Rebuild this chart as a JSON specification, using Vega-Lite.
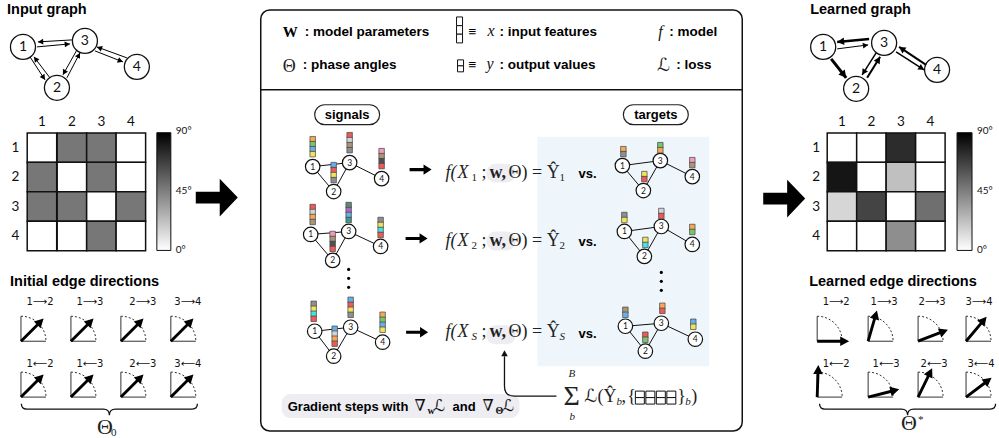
{
"$schema":"https://vega.github.io/schema/vega-lite/v6.json",
"width":999,"height":438,
"autosize":{"type":"fit","contains":"padding"},
"padding":0,
"background":"white",
"config":{"view":{"stroke":null}},
"encoding":{
 "x":{"field":"x","type":"quantitative","scale":{"domain":[0,999],"nice":false,"zero":false},"axis":null},
 "y":{"field":"y","type":"quantitative","scale":{"domain":[0,438],"nice":false,"zero":false,"reverse":true},"axis":null}
},
"datasets":{
 "panel":[{"x":538,"y":137,"x2":710,"y2":367}],
 "mainbox":[{"x":261,"y":10,"x2":743,"y2":432}],
 "sep":[{"x":261,"y":90,"x2":743,"y2":90}],
 "graypills":[{"x":282,"y":395,"x2":520,"y2":419},{"x":487,"y":164,"x2":516,"y2":183},{"x":487,"y":232,"x2":516,"y2":251},{"x":487,"y":326,"x2":516,"y2":345}],
 "pills":[{"x":315,"y":105,"x2":380,"y2":125},{"x":624,"y":105,"x2":689,"y2":125}],
 "cellboxes":[
  {"x":457,"y":17,"x2":463,"y2":25.7},{"x":457,"y":25.7,"x2":463,"y2":34.3},{"x":457,"y":34.3,"x2":463,"y2":43},
  {"x":458,"y":60,"x2":464,"y2":66},{"x":458,"y":66,"x2":464,"y2":72},
  {"x":636,"y":392,"x2":645,"y2":398.5},{"x":636,"y":398.5,"x2":645,"y2":405},
  {"x":646.5,"y":392,"x2":655.5,"y2":398.5},{"x":646.5,"y":398.5,"x2":655.5,"y2":405},
  {"x":657,"y":392,"x2":666,"y2":398.5},{"x":657,"y":398.5,"x2":666,"y2":405},
  {"x":667.5,"y":392,"x2":676.5,"y2":398.5},{"x":667.5,"y":398.5,"x2":676.5,"y2":405}
 ],
 "colorbars":[{"x":157,"y":133,"x2":171,"y2":251},{"x":958,"y":133,"x2":973,"y2":251}],
 "heat":[
  {"x":42,"y":148,"deg":0},{"x":72,"y":148,"deg":45},{"x":101.5,"y":148,"deg":45},{"x":131,"y":148,"deg":0},
  {"x":42,"y":177.5,"deg":45},{"x":72,"y":177.5,"deg":0},{"x":101.5,"y":177.5,"deg":45},{"x":131,"y":177.5,"deg":0},
  {"x":42,"y":207,"deg":45},{"x":72,"y":207,"deg":45},{"x":101.5,"y":207,"deg":0},{"x":131,"y":207,"deg":45},
  {"x":42,"y":236.5,"deg":0},{"x":72,"y":236.5,"deg":0},{"x":101.5,"y":236.5,"deg":45},{"x":131,"y":236.5,"deg":0},
  {"x":842.8,"y":148,"deg":0},{"x":872.3,"y":148,"deg":0},{"x":901.8,"y":148,"deg":74},{"x":931.3,"y":148,"deg":0},
  {"x":842.8,"y":177.5,"deg":84},{"x":872.3,"y":177.5,"deg":0},{"x":901.8,"y":177.5,"deg":20},{"x":931.3,"y":177.5,"deg":0},
  {"x":842.8,"y":207,"deg":13},{"x":872.3,"y":207,"deg":64},{"x":901.8,"y":207,"deg":0},{"x":931.3,"y":207,"deg":48},
  {"x":842.8,"y":236.5,"deg":0},{"x":872.3,"y":236.5,"deg":0},{"x":901.8,"y":236.5,"deg":37},{"x":931.3,"y":236.5,"deg":0}
 ],
 "edges":[
  {"x":72,"y":40,"x2":38,"y2":42,"ang":176.6,"w":1},
  {"x":37,"y":47,"x2":70,"y2":44,"ang":-5.2,"w":1},
  {"x":50,"y":78,"x2":34,"y2":57,"ang":-127.3,"w":1},
  {"x":30,"y":57,"x2":45,"y2":80,"ang":56.9,"w":1},
  {"x":67,"y":78,"x2":80,"y2":53,"ang":-62.5,"w":1},
  {"x":77,"y":50,"x2":63,"y2":75,"ang":119.2,"w":1},
  {"x":127,"y":58,"x2":97,"y2":47,"ang":-159.9,"w":1},
  {"x":95,"y":51,"x2":123,"y2":62,"ang":21.4,"w":1},
  {"x":870,"y":39,"x2":838,"y2":42,"ang":174.6,"w":2.5},
  {"x":838,"y":49,"x2":869,"y2":45,"ang":-7.4,"w":1},
  {"x":832,"y":59,"x2":847,"y2":78,"ang":51.7,"w":3},
  {"x":877,"y":53,"x2":863,"y2":75,"ang":122.5,"w":1.5},
  {"x":868,"y":78,"x2":881,"y2":57,"ang":-58.2,"w":2},
  {"x":927,"y":65,"x2":900,"y2":47,"ang":-146.3,"w":2},
  {"x":897,"y":52,"x2":925,"y2":70,"ang":32.7,"w":1.5}
 ],
 "nodesB":[{"x":23,"y":47,"t":"1"},{"x":85,"y":41,"t":"3"},{"x":137,"y":67,"t":"4"},{"x":57,"y":88,"t":"2"},{"x":824,"y":47,"t":"1"},{"x":885,"y":43,"t":"3"},{"x":938,"y":70,"t":"4"},{"x":857,"y":89,"t":"2"}],
 "nodesS":[
  {"x":313,"y":167,"t":"1"},{"x":334,"y":192,"t":"2"},{"x":350,"y":163,"t":"3"},{"x":382,"y":179,"t":"4"},
  {"x":311,"y":235,"t":"1"},{"x":333,"y":261,"t":"2"},{"x":349,"y":232,"t":"3"},{"x":381,"y":247,"t":"4"},
  {"x":315,"y":332,"t":"1"},{"x":334,"y":357,"t":"2"},{"x":351,"y":328,"t":"3"},{"x":383,"y":343,"t":"4"},
  {"x":623,"y":166,"t":"1"},{"x":644,"y":191,"t":"2"},{"x":661,"y":161,"t":"3"},{"x":693,"y":177,"t":"4"},
  {"x":625,"y":232,"t":"1"},{"x":645,"y":257,"t":"2"},{"x":662,"y":227,"t":"3"},{"x":693,"y":245,"t":"4"},
  {"x":626,"y":327,"t":"1"},{"x":646,"y":352,"t":"2"},{"x":662,"y":324,"t":"3"},{"x":696,"y":340,"t":"4"}
 ],
 "sedges":[
  {"x":313,"y":167,"x2":350,"y2":163},{"x":313,"y":167,"x2":334,"y2":192},{"x":334,"y":192,"x2":350,"y2":163},{"x":350,"y":163,"x2":382,"y2":179},
  {"x":311,"y":235,"x2":349,"y2":232},{"x":311,"y":235,"x2":333,"y2":261},{"x":333,"y":261,"x2":349,"y2":232},{"x":349,"y":232,"x2":381,"y2":247},
  {"x":315,"y":332,"x2":351,"y2":328},{"x":315,"y":332,"x2":334,"y2":357},{"x":334,"y":357,"x2":351,"y2":328},{"x":351,"y":328,"x2":383,"y2":343},
  {"x":623,"y":166,"x2":661,"y2":161},{"x":623,"y":166,"x2":644,"y2":191},{"x":644,"y":191,"x2":661,"y2":161},{"x":661,"y":161,"x2":693,"y2":177},
  {"x":625,"y":232,"x2":662,"y2":227},{"x":625,"y":232,"x2":645,"y2":257},{"x":645,"y":257,"x2":662,"y2":227},{"x":662,"y":227,"x2":693,"y2":245},
  {"x":626,"y":327,"x2":662,"y2":324},{"x":626,"y":327,"x2":646,"y2":352},{"x":646,"y":352,"x2":662,"y2":324},{"x":662,"y":324,"x2":696,"y2":340}
 ],
 "feat":[
  {"x":313,"y":139.5,"c":"orange"},{"x":313,"y":144.5,"c":"green"},{"x":313,"y":149.5,"c":"blue"},{"x":313,"y":154.5,"c":"yellow"},
  {"x":350,"y":135.5,"c":"red"},{"x":350,"y":140.5,"c":"lightgray"},{"x":350,"y":145.5,"c":"tan"},{"x":350,"y":150.5,"c":"gray"},
  {"x":334,"y":165.5,"c":"blue"},{"x":334,"y":170.5,"c":"red"},{"x":334,"y":175.5,"c":"yellow"},{"x":334,"y":180.5,"c":"gray"},
  {"x":382,"y":151.5,"c":"pink"},{"x":382,"y":156.5,"c":"tan"},{"x":382,"y":161.5,"c":"darkgray"},{"x":382,"y":166.5,"c":"red"},
  {"x":313,"y":207.5,"c":"red"},{"x":313,"y":212.5,"c":"lightgray"},{"x":313,"y":217.5,"c":"orange"},{"x":313,"y":222.5,"c":"tan"},
  {"x":349,"y":205.5,"c":"darkgreen"},{"x":349,"y":210.5,"c":"purple"},{"x":349,"y":215.5,"c":"blue"},{"x":349,"y":220.5,"c":"teal"},
  {"x":333,"y":234.5,"c":"pink"},{"x":333,"y":239.5,"c":"tan"},{"x":333,"y":244.5,"c":"darkgray"},{"x":333,"y":249.5,"c":"red"},
  {"x":381,"y":220.5,"c":"gray"},{"x":381,"y":225.5,"c":"yellow"},{"x":381,"y":230.5,"c":"cyan"},{"x":381,"y":235.5,"c":"red"},
  {"x":314,"y":304.5,"c":"gray"},{"x":314,"y":309.5,"c":"yellow"},{"x":314,"y":314.5,"c":"cyan"},{"x":314,"y":319.5,"c":"red"},
  {"x":351,"y":300.5,"c":"blue"},{"x":351,"y":305.5,"c":"red"},{"x":351,"y":310.5,"c":"yellow"},{"x":351,"y":315.5,"c":"gray"},
  {"x":335,"y":329.5,"c":"blue"},{"x":335,"y":334.5,"c":"lightgray"},{"x":335,"y":339.5,"c":"orange"},{"x":335,"y":344.5,"c":"red"},
  {"x":383,"y":315.5,"c":"orange"},{"x":383,"y":320.5,"c":"green"},{"x":383,"y":325.5,"c":"blue"},{"x":383,"y":330.5,"c":"yellow"},
  {"x":624,"y":149.5,"c":"orange"},{"x":624,"y":154.5,"c":"gray"},
  {"x":661,"y":145.5,"c":"green"},{"x":661,"y":150.5,"c":"orange"},
  {"x":645,"y":174.5,"c":"yellow"},{"x":645,"y":179.5,"c":"red"},
  {"x":693,"y":160.5,"c":"pink"},{"x":693,"y":165.5,"c":"tan"},
  {"x":625,"y":215.5,"c":"gray"},{"x":625,"y":220.5,"c":"yellow"},
  {"x":662,"y":211.5,"c":"lightgray"},{"x":662,"y":216.5,"c":"red"},
  {"x":646,"y":240.5,"c":"yellow"},{"x":646,"y":245.5,"c":"cyan"},
  {"x":693,"y":227.5,"c":"orange"},{"x":693,"y":232.5,"c":"green"},
  {"x":626,"y":310.5,"c":"tan"},{"x":626,"y":315.5,"c":"blue"},
  {"x":663,"y":306.5,"c":"orange"},{"x":663,"y":311.5,"c":"red"},
  {"x":646,"y":335.5,"c":"red"},{"x":646,"y":340.5,"c":"green"},
  {"x":694,"y":322.5,"c":"blue"},{"x":694,"y":327.5,"c":"yellow"}
 ],
 "dots":[{"x":349,"y":270},{"x":349,"y":279},{"x":349,"y":288},{"x":662,"y":273},{"x":662,"y":282},{"x":662,"y":291}],
 "blocks":[{"x":217,"y":198},{"x":785,"y":199}],
 "smallarrows":[{"x":421,"y":170},{"x":417,"y":239},{"x":417.5,"y":333}],
 "icons":[
  {"x":21,"y":342,"deg":45},{"x":71,"y":342,"deg":45},{"x":121,"y":342,"deg":45},{"x":171,"y":342,"deg":45},
  {"x":21,"y":398,"deg":45},{"x":71,"y":398,"deg":45},{"x":121,"y":398,"deg":45},{"x":171,"y":398,"deg":45},
  {"x":818,"y":342,"deg":0},{"x":869,"y":342,"deg":74},{"x":919,"y":342,"deg":21},{"x":967,"y":342,"deg":50},
  {"x":818,"y":398,"deg":88},{"x":869,"y":398,"deg":14},{"x":919,"y":398,"deg":64},{"x":967,"y":398,"deg":37}
 ],
 "braces":[{"x":109.5,"y":410},{"x":908.5,"y":410}],
 "curve":[{"x":530,"y":375}],
 "curvehead":[{"x":505,"y":351}],
 "t_title":[{"x":7,"y":14,"t":"Input graph"},{"x":10,"y":287,"t":"Initial edge directions"},{"x":811,"y":14,"t":"Learned graph"},{"x":810,"y":287,"t":"Learned edge directions"}],
 "t_hdr":[{"x":305,"y":36,"t":": model parameters"},{"x":303,"y":69,"t":": phase angles"},{"x":469,"y":36,"t":"≡"},{"x":469,"y":69,"t":"≡"},{"x":500,"y":36,"t":": input features"},{"x":500,"y":69,"t":": output values"},{"x":670,"y":36,"t":": model"},{"x":677,"y":69,"t":": loss"}],
 "t_b13":[{"x":579,"y":178,"t":"vs."},{"x":579,"y":247,"t":"vs."},{"x":579,"y":339,"t":"vs."},{"x":288,"y":412,"t":"Gradient steps with"},{"x":453,"y":412,"t":"and"}],
 "t_pill":[{"x":347.5,"y":119,"t":"signals"},{"x":656.5,"y":119,"t":"targets"}],
 "t_axis":[
  {"x":42,"y":122,"t":"1"},{"x":72,"y":122,"t":"2"},{"x":101.5,"y":122,"t":"3"},{"x":131,"y":122,"t":"4"},
  {"x":15.5,"y":148,"t":"1"},{"x":15.5,"y":177.5,"t":"2"},{"x":15.5,"y":207,"t":"3"},{"x":15.5,"y":236.5,"t":"4"},
  {"x":842.8,"y":122,"t":"1"},{"x":872.3,"y":122,"t":"2"},{"x":901.8,"y":122,"t":"3"},{"x":931.3,"y":122,"t":"4"},
  {"x":817,"y":148,"t":"1"},{"x":817,"y":177.5,"t":"2"},{"x":817,"y":207,"t":"3"},{"x":817,"y":236.5,"t":"4"}
 ],
 "t_cb":[{"x":176,"y":131,"t":"90°"},{"x":176,"y":191,"t":"45°"},{"x":176,"y":251,"t":"0°"},{"x":978,"y":131,"t":"90°"},{"x":978,"y":191,"t":"45°"},{"x":978,"y":251,"t":"0°"}],
 "t_edge":[
  {"x":40,"y":303,"t":"1⟶2"},{"x":90,"y":303,"t":"1⟶3"},{"x":143,"y":303,"t":"2⟶3"},{"x":188,"y":303,"t":"3⟶4"},
  {"x":40,"y":365,"t":"1⟵2"},{"x":90,"y":365,"t":"1⟵3"},{"x":143,"y":365,"t":"2⟵3"},{"x":188,"y":365,"t":"3⟵4"},
  {"x":837,"y":303,"t":"1⟶2"},{"x":885,"y":303,"t":"1⟶3"},{"x":933,"y":303,"t":"2⟶3"},{"x":980,"y":303,"t":"3⟶4"},
  {"x":837,"y":365,"t":"1⟵2"},{"x":887,"y":365,"t":"1⟵3"},{"x":935,"y":365,"t":"2⟵3"},{"x":982,"y":365,"t":"3⟵4"}
 ],
 "t_ser":[
  {"x":283,"y":72,"t":"Θ"},{"x":658,"y":71,"t":"ℒ"},
  {"x":482,"y":178,"t":";"},{"x":482,"y":247,"t":";"},{"x":482,"y":338,"t":";"},
  {"x":509,"y":178,"t":"Θ) = Ŷ"},{"x":509,"y":247,"t":"Θ) = Ŷ"},{"x":509,"y":338,"t":"Θ) = Ŷ"},
  {"x":585,"y":403,"t":"ℒ("},{"x":604,"y":403,"t":"Ŷ"},{"x":622,"y":403,"t":","},{"x":628,"y":403,"t":"{"},{"x":678,"y":403,"t":"}"},{"x":692,"y":403,"t":")"}
 ],
 "t_seri":[
  {"x":446,"y":178,"t":"f("},{"x":458,"y":178,"t":"X"},
  {"x":446,"y":247,"t":"f("},{"x":458,"y":247,"t":"X"},
  {"x":446,"y":338,"t":"f("},{"x":458,"y":338,"t":"X"}
 ],
 "t_seri16":[{"x":488,"y":36,"t":"x"},{"x":487,"y":69,"t":"y"},{"x":659,"y":37,"t":"f"}],
 "t_serb":[{"x":490,"y":178,"t":"w,"},{"x":490,"y":247,"t":"w,"},{"x":490,"y":338,"t":"w,"}],
 "t_W":[{"x":283,"y":37,"t":"W"}],
 "t_sub":[{"x":472,"y":181,"t":"1"},{"x":472,"y":250,"t":"2"},{"x":560,"y":181,"t":"1"},{"x":560,"y":250,"t":"2"},{"x":111,"y":437,"t":"0"},{"x":919,"y":424,"t":"*"}],
 "t_subi":[{"x":472,"y":341,"t":"S"},{"x":560,"y":341,"t":"S"},{"x":569,"y":378,"t":"B"},{"x":570,"y":421,"t":"b"},{"x":617,"y":406,"t":"b"},{"x":686,"y":406,"t":"b"}],
 "t_nabla":[{"x":415,"y":412,"t":"∇"},{"x":434,"y":412,"t":"ℒ"},{"x":483,"y":412,"t":"∇"},{"x":503,"y":412,"t":"ℒ"}],
 "t_subn":[{"x":428,"y":415,"t":"w"},{"x":496,"y":415,"t":"Θ"}],
 "t_sigma":[{"x":564,"y":406,"t":"Σ"}],
 "t_theta":[{"x":97,"y":435,"t":"Θ"},{"x":902,"y":431,"t":"Θ"}]
},
"layer":[
 {"data":{"name":"panel"},"mark":{"type":"rect","fill":"#eef6fb"},"encoding":{"x2":{"field":"x2"},"y2":{"field":"y2"}}},
 {"data":{"name":"mainbox"},"mark":{"type":"rect","filled":false,"stroke":"#111","strokeWidth":1.5,"cornerRadius":9},"encoding":{"x2":{"field":"x2"},"y2":{"field":"y2"}}},
 {"data":{"name":"sep"},"mark":{"type":"rule","stroke":"#111","strokeWidth":1.5},"encoding":{"x2":{"field":"x2"},"y2":{"field":"y2"}}},
 {"data":{"name":"graypills"},"mark":{"type":"rect","fill":"#ededf2","cornerRadius":9},"encoding":{"x2":{"field":"x2"},"y2":{"field":"y2"}}},
 {"data":{"name":"pills"},"mark":{"type":"rect","fill":"white","stroke":"#222","strokeWidth":1.2,"cornerRadius":10},"encoding":{"x2":{"field":"x2"},"y2":{"field":"y2"}}},
 {"data":{"name":"cellboxes"},"mark":{"type":"rect","fill":"white","stroke":"#111","strokeWidth":1},"encoding":{"x2":{"field":"x2"},"y2":{"field":"y2"}}},
 {"data":{"name":"colorbars"},"mark":{"type":"rect","stroke":"#111","strokeWidth":1,"fill":{"gradient":"linear","x1":0,"y1":0,"x2":0,"y2":1,"stops":[{"offset":0,"color":"#000000"},{"offset":1,"color":"#ffffff"}]}},"encoding":{"x2":{"field":"x2"},"y2":{"field":"y2"}}},
 {"data":{"name":"heat"},"mark":{"type":"point","shape":"square","size":870,"filled":true,"stroke":"#111","strokeWidth":1.5,"opacity":1},"encoding":{"fill":{"field":"deg","type":"quantitative","scale":{"domain":[0,90],"range":["#ffffff","#000000"]},"legend":null}}},
 {"data":{"name":"nodesB"},"mark":{"type":"point","shape":"circle","size":625,"filled":true,"fill":"white","stroke":"#111","strokeWidth":1.3,"opacity":1}},
 {"data":{"name":"edges"},"mark":{"type":"rule","color":"#000"},"encoding":{"x2":{"field":"x2"},"y2":{"field":"y2"},"strokeWidth":{"field":"w","type":"quantitative","scale":null}}},
 {"data":{"name":"edges"},"mark":{"type":"point","shape":"M0,0L-1,-0.55L-1,0.55Z","filled":true,"fill":"#000","strokeWidth":0,"opacity":1},"encoding":{
   "x":{"field":"x2","type":"quantitative","scale":{"domain":[0,999],"nice":false,"zero":false},"axis":null},
   "y":{"field":"y2","type":"quantitative","scale":{"domain":[0,438],"nice":false,"zero":false,"reverse":true},"axis":null},
   "angle":{"field":"ang","type":"quantitative","scale":null},
   "size":{"field":"w","type":"quantitative","scale":{"domain":[1,3],"range":[110,220]},"legend":null}}},
 {"data":{"name":"nodesB"},"mark":{"type":"text","font":"Lato","fontSize":14,"align":"center","baseline":"middle","color":"#111"},"encoding":{"text":{"field":"t"}}},
 {"data":{"name":"sedges"},"mark":{"type":"rule","color":"#111","strokeWidth":1},"encoding":{"x2":{"field":"x2"},"y2":{"field":"y2"}}},
 {"data":{"name":"nodesS"},"mark":{"type":"point","shape":"circle","size":210,"filled":true,"fill":"white","stroke":"#111","strokeWidth":1.2,"opacity":1}},
 {"data":{"name":"nodesS"},"mark":{"type":"text","font":"Lato","fontSize":8.5,"align":"center","baseline":"middle","color":"#111"},"encoding":{"text":{"field":"t"}}},
 {"data":{"name":"feat"},"mark":{"type":"point","shape":"square","size":30,"filled":true,"stroke":"#444","strokeWidth":0.7,"opacity":1},"encoding":{"color":{"field":"c","type":"nominal","legend":null,"scale":{"domain":["orange","green","blue","yellow","red","lightgray","tan","gray","darkgray","pink","purple","teal","cyan","darkgreen"],"range":["#f5a955","#7cc46c","#6aaee8","#f2e35a","#ee5a5a","#d4d4d4","#ab9478","#8f8f8f","#505050","#f49bbd","#a86bc0","#3f9a86","#48e0e0","#5f8a70"]}}}},
 {"data":{"name":"dots"},"mark":{"type":"point","shape":"circle","size":10,"filled":true,"fill":"#000","strokeWidth":0,"opacity":1}},
 {"data":{"name":"blocks"},"mark":{"type":"point","shape":"M-1,-0.28L0.14,-0.28L0.14,-0.9L1,0L0.14,0.9L0.14,0.28L-1,0.28Z","size":1764,"filled":true,"fill":"#000","strokeWidth":0,"opacity":1}},
 {"data":{"name":"smallarrows"},"mark":{"type":"point","shape":"M-1,-0.14L0.27,-0.14L0.27,-0.47L1,0L0.27,0.47L0.27,0.14L-1,0.14Z","size":484,"filled":true,"fill":"#000","strokeWidth":0,"opacity":1}},
 {"data":{"name":"icons"},"mark":{"type":"point","shape":"M0,-1L0,0L1,0","size":2500,"filled":false,"stroke":"#333","strokeWidth":1,"opacity":1}},
 {"data":{"name":"icons"},"mark":{"type":"point","shape":"M0,-1A1,1,0,0,1,1,0","size":2500,"filled":false,"stroke":"#333","strokeWidth":1,"strokeDash":[2,2],"opacity":1}},
 {"data":{"name":"icons"},"mark":{"type":"point","shape":"M0,-0.045L0.72,-0.045L0.72,-0.15L1,0L0.72,0.15L0.72,0.045L0,0.045Z","size":4096,"filled":true,"fill":"#000","strokeWidth":0,"opacity":1},"encoding":{"angle":{"field":"deg","type":"quantitative","scale":{"domain":[0,90],"range":[360,270]}}}},
 {"data":{"name":"braces"},"mark":{"type":"point","shape":"M-1,-0.06Q-1,0,-0.94,0L-0.07,0Q0,0,0,0.07Q0,0,0.07,0L0.94,0Q1,0,1,-0.06","size":30976,"filled":false,"stroke":"#111","strokeWidth":1.3,"opacity":1}},
 {"data":{"name":"curve"},"mark":{"type":"point","shape":"M0.9,0.733L-0.5,0.733Q-0.833,0.733,-0.833,0.4L-0.833,-0.6","size":3600,"filled":false,"stroke":"#111","strokeWidth":1.3,"opacity":1}},
 {"data":{"name":"curvehead"},"mark":{"type":"point","shape":"M0,0L-0.55,1L0.55,1Z","size":144,"filled":true,"fill":"#111","strokeWidth":0,"opacity":1}},
 {"data":{"name":"t_title"},"mark":{"type":"text","font":"Liberation Sans","fontWeight":"bold","fontSize":14.5,"align":"left","baseline":"alphabetic","color":"#000"},"encoding":{"text":{"field":"t"}}},
 {"data":{"name":"t_hdr"},"mark":{"type":"text","font":"Liberation Sans","fontWeight":"bold","fontSize":13.5,"align":"left","baseline":"alphabetic","color":"#000"},"encoding":{"text":{"field":"t"}}},
 {"data":{"name":"t_b13"},"mark":{"type":"text","font":"Liberation Sans","fontWeight":"bold","fontSize":13,"align":"left","baseline":"alphabetic","color":"#000"},"encoding":{"text":{"field":"t"}}},
 {"data":{"name":"t_pill"},"mark":{"type":"text","font":"Liberation Sans","fontWeight":"bold","fontSize":13,"align":"center","baseline":"alphabetic","color":"#000"},"encoding":{"text":{"field":"t"}}},
 {"data":{"name":"t_axis"},"mark":{"type":"text","font":"Lato","fontSize":13.5,"align":"center","baseline":"middle","color":"#111"},"encoding":{"text":{"field":"t"}}},
 {"data":{"name":"t_cb"},"mark":{"type":"text","font":"Lato","fontSize":10,"align":"left","baseline":"middle","color":"#111"},"encoding":{"text":{"field":"t"}}},
 {"data":{"name":"t_edge"},"mark":{"type":"text","font":"DejaVu Sans","fontSize":10,"align":"center","baseline":"middle","color":"#111"},"encoding":{"text":{"field":"t"}}},
 {"data":{"name":"t_ser"},"mark":{"type":"text","font":"Liberation Serif, DejaVu Serif, DejaVu Sans","fontSize":18,"align":"left","baseline":"alphabetic","color":"#222"},"encoding":{"text":{"field":"t"}}},
 {"data":{"name":"t_seri"},"mark":{"type":"text","font":"Liberation Serif, DejaVu Serif","fontStyle":"italic","fontSize":18,"align":"left","baseline":"alphabetic","color":"#222"},"encoding":{"text":{"field":"t"}}},
 {"data":{"name":"t_seri16"},"mark":{"type":"text","font":"Liberation Serif, DejaVu Serif","fontStyle":"italic","fontSize":16,"align":"left","baseline":"alphabetic","color":"#111"},"encoding":{"text":{"field":"t"}}},
 {"data":{"name":"t_serb"},"mark":{"type":"text","font":"Liberation Serif, DejaVu Serif","fontWeight":"bold","fontSize":18,"align":"left","baseline":"alphabetic","color":"#222"},"encoding":{"text":{"field":"t"}}},
 {"data":{"name":"t_W"},"mark":{"type":"text","font":"Liberation Serif, DejaVu Serif","fontWeight":"bold","fontSize":15,"align":"left","baseline":"alphabetic","color":"#000"},"encoding":{"text":{"field":"t"}}},
 {"data":{"name":"t_sub"},"mark":{"type":"text","font":"Liberation Serif, DejaVu Serif","fontSize":11,"align":"left","baseline":"alphabetic","color":"#222"},"encoding":{"text":{"field":"t"}}},
 {"data":{"name":"t_subi"},"mark":{"type":"text","font":"Liberation Serif, DejaVu Serif","fontStyle":"italic","fontSize":11,"align":"left","baseline":"alphabetic","color":"#222"},"encoding":{"text":{"field":"t"}}},
 {"data":{"name":"t_nabla"},"mark":{"type":"text","font":"Liberation Serif, DejaVu Serif, DejaVu Sans","fontSize":16,"align":"left","baseline":"alphabetic","color":"#111"},"encoding":{"text":{"field":"t"}}},
 {"data":{"name":"t_subn"},"mark":{"type":"text","font":"Liberation Serif, DejaVu Serif","fontWeight":"bold","fontSize":10,"align":"left","baseline":"alphabetic","color":"#111"},"encoding":{"text":{"field":"t"}}},
 {"data":{"name":"t_sigma"},"mark":{"type":"text","font":"Liberation Serif, DejaVu Serif","fontSize":28,"align":"left","baseline":"alphabetic","color":"#222"},"encoding":{"text":{"field":"t"}}},
 {"data":{"name":"t_theta"},"mark":{"type":"text","font":"Liberation Serif, DejaVu Serif","fontSize":22,"align":"left","baseline":"alphabetic","color":"#222"},"encoding":{"text":{"field":"t"}}}
]
}
